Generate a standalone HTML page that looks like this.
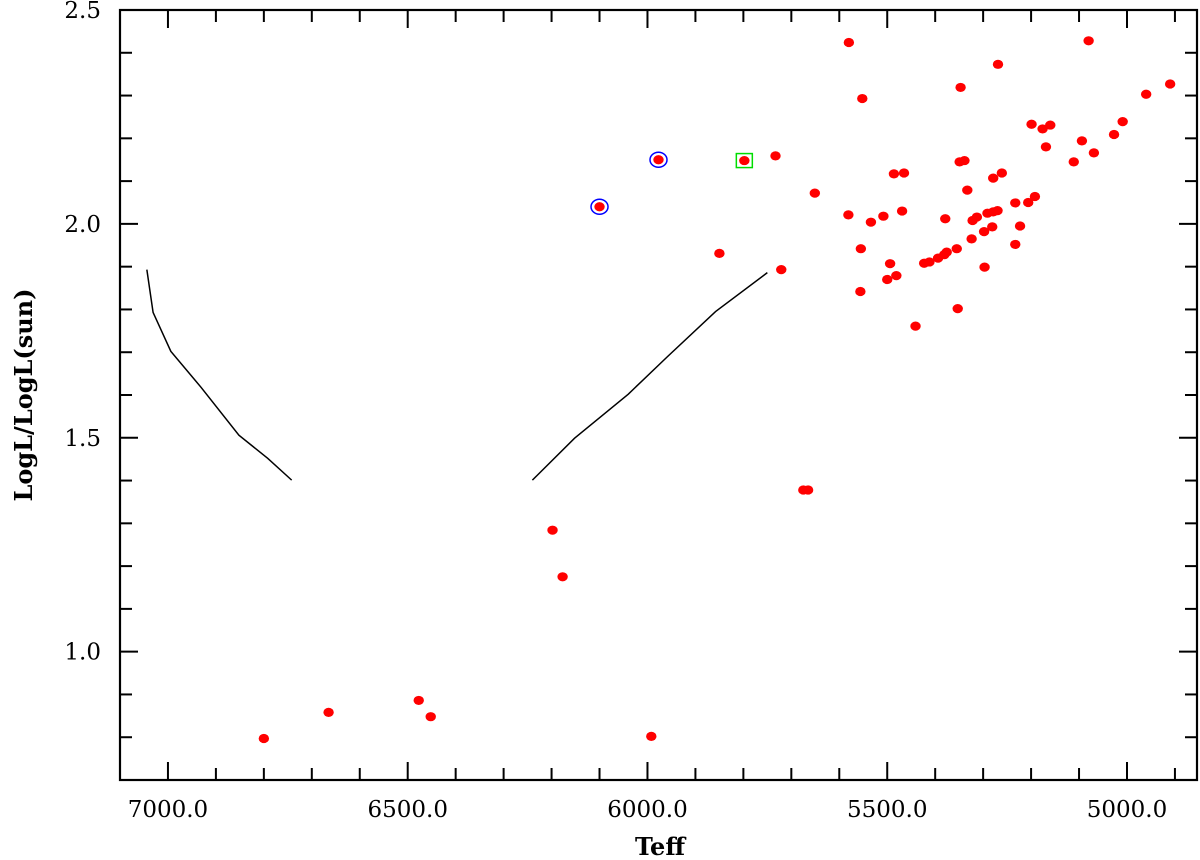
<!DOCTYPE html>
<html><head><meta charset="utf-8"><style>
body{margin:0;background:#fff}
svg{display:block}
text{font-family:"DejaVu Serif","Liberation Serif",serif;fill:#000}
</style></head><body>
<svg id="chart" width="1200" height="860" xmlns="http://www.w3.org/2000/svg">
<g id="grid"></g>
</svg>
<script>
const teff=[5580,5080,5269,5347,5552,4910,4960,5009,5027,5199,5176,5160,5169,5094,5069,5111,5349,5339,5279,5261,5333,5486,5465,5651,5581,5534,5508,5469,5379,5322,5313,5291,5279,5270,5233,5206,5192,5281,5223,5298,5324,5233,5555,5355,5376,5381,5394,5412,5423,5494,5297,5481,5500,5556,5353,5441,5977,6100,5798,5733,5850,5721,6198,6177,6477,6452,5992,6800,6665,5675,5665];
const logL=[2.424,2.428,2.373,2.319,2.293,2.327,2.303,2.239,2.209,2.233,2.222,2.231,2.18,2.194,2.166,2.145,2.145,2.148,2.107,2.119,2.079,2.117,2.119,2.072,2.021,2.004,2.018,2.030,2.012,2.008,2.016,2.025,2.028,2.031,2.049,2.05,2.064,1.993,1.995,1.982,1.965,1.952,1.942,1.942,1.934,1.928,1.920,1.911,1.908,1.907,1.899,1.879,1.870,1.842,1.802,1.761,2.15,2.040,2.148,2.159,1.931,1.893,1.284,1.175,0.886,0.848,0.802,0.797,0.858,1.378,1.378];
const blueTeff=[5977,6100];
const blueL=[2.15,2.040];
const greenTeff=[5798];
const greenL=[2.148];
const trackATeff=[7044,7031,6994,6931,6852,6792,6742];
const trackAL=[1.893,1.793,1.702,1.618,1.506,1.452,1.401];
const trackBTeff=[6240,6152,6040,5958,5858,5750];
const trackBL=[1.401,1.499,1.602,1.690,1.795,1.886];
const xTicks=["7000.0","6500.0","6000.0","5500.0","5000.0"];
const yTicks=["1.0","1.5","2.0","2.5"];

const L=120,R=1197,T=10,B=780;
const xMin=7100,xMax=4854,yMin=0.7,yMax=2.5;
const X=v=>L+(v-xMin)/(xMax-xMin)*(R-L);
const Y=v=>B-(v-yMin)/(yMax-yMin)*(B-T);
const svg=document.getElementById('chart');
const NS='http://www.w3.org/2000/svg';
function mk(tag,attrs,parent){const e=document.createElementNS(NS,tag);for(const k in attrs)e.setAttribute(k,attrs[k]);(parent||svg).appendChild(e);return e;}

const frame=mk('rect',{x:L,y:T,width:R-L,height:B-T,fill:'none',stroke:'#000','stroke-width':2.2});



// x ticks
for(let v=7000;v>=4900;v-=100){
  const x=X(v),maj=(v%500===0),len=maj?18:12;
  const t1=mk('line',{x1:x,x2:x,y1:B,y2:B-len,stroke:'#000','stroke-width':2});
  
  
  const t2=mk('line',{x1:x,x2:x,y1:T,y2:T+len,stroke:'#000','stroke-width':2});
  
  
}
xTicks.forEach(s=>{
  const t=mk('text',{x:X(parseFloat(s)),y:817,'font-size':23,'text-anchor':'middle'});
  t.textContent=s;
  
  
});
// y ticks
for(let i=8;i<=24;i++){
  const v=i/10,y=Y(v),maj=(i%5===0),len=maj?18:12;
  const t1=mk('line',{x1:L,x2:L+len,y1:y,y2:y,stroke:'#000','stroke-width':2});
  
  
  const t2=mk('line',{x1:R,x2:R-len,y1:y,y2:y,stroke:'#000','stroke-width':2});
  
  
}
yTicks.forEach(s=>{
  const t=mk('text',{x:101,y:Y(parseFloat(s))+8,'font-size':23,'text-anchor':'end'});
  t.textContent=s;
  
  
});
const xt=mk('text',{x:660,y:855,'font-size':24,'font-weight':'bold','text-anchor':'middle'});
xt.textContent='Teff';


const yt=mk('text',{x:0,y:0,'font-size':24,'font-weight':'bold','text-anchor':'middle',transform:'translate(32,395) rotate(-90)'});
yt.textContent='LogL/LogL(sun)';



function track(tx,ty,name){
  const p=mk('polyline',{points:tx.map((v,i)=>X(v)+','+Y(ty[i])).join(' '),fill:'none',stroke:'#000','stroke-width':1.5});
  
  
}
track(trackATeff,trackAL,'instability-strip-blue-edge');
track(trackBTeff,trackBL,'instability-strip-red-edge');

teff.forEach((v,i)=>{
  const c=mk('ellipse',{cx:X(v),cy:Y(logL[i]),rx:5.2,ry:4.6,fill:'#ff0000'});
  
  
});
blueTeff.forEach((v,i)=>{
  const c=mk('ellipse',{cx:X(v),cy:Y(blueL[i]),rx:8.5,ry:7.5,fill:'none',stroke:'#0000ff','stroke-width':1.5});
  
  
});
greenTeff.forEach((v,i)=>{
  const c=mk('rect',{x:X(v)-8,y:Y(greenL[i])-7,width:16,height:14,fill:'none',stroke:'#00dd00','stroke-width':1.5});
  
  
});
</script>
</body></html>
